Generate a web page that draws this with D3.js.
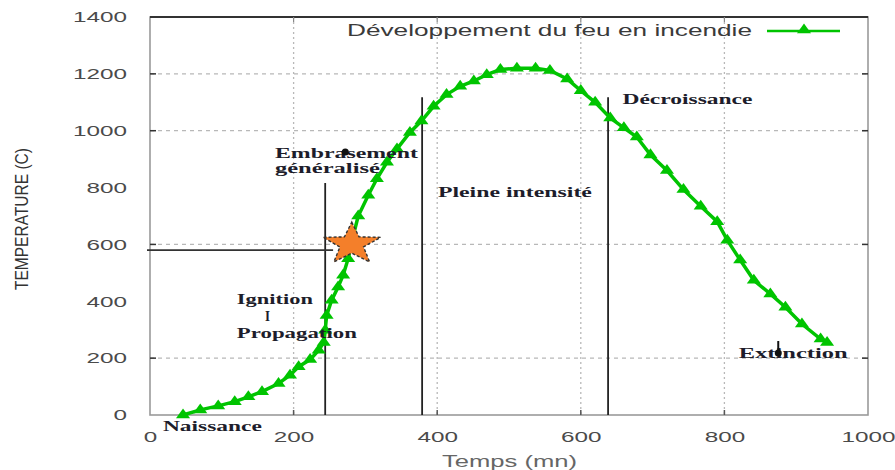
<!DOCTYPE html>
<html>
<head>
<meta charset="utf-8">
<script src="https://cdn.jsdelivr.net/npm/d3@7"></script>
<style>
  body { margin: 0; background: #fff; }
  svg { display: block; }
  .tick text { fill: #4a4a4a; font-family: "Liberation Sans", Arial, sans-serif; font-size: 15px; }
  .note { font-family: "Liberation Serif", "Times New Roman", serif; font-weight: bold; font-size: 15px; fill: #1d1d2b; }
</style>
</head>
<body>
<div id="chart"></div>
<script>
// Curve: time (mn) and temperature (C)
const timeMin = [46, 70, 95, 118, 137, 156, 179, 195, 207, 223, 235, 242, 244, 246, 253, 262, 269, 276,
    282, 290, 304, 316, 330, 344, 362, 378, 395, 413, 432, 451, 469, 488, 511, 537, 557, 581, 600,
    620, 641, 660, 678, 697, 720, 743, 767, 790, 804, 822, 841, 864, 885, 908, 934, 943];
const tempC = [0, 18, 32, 47, 64, 82, 111, 140, 170, 195, 228, 255, 298, 350, 404, 450, 492, 550,
    620, 700, 773, 831, 889, 936, 994, 1034, 1086, 1127, 1156, 1175, 1197, 1215, 1220, 1220, 1212, 1182, 1141,
    1100, 1045, 1010, 978, 915, 860, 793, 734, 680, 615, 545, 474, 426, 379, 320, 267, 255];

const seriesName = 'Développement du feu en incendie';
const xTicks = [0, 200, 400, 600, 800, 1000];
const yTicks = [0, 200, 400, 600, 800, 1000, 1200, 1400];
const gridX = [200, 400, 600, 800];
const gridY = [200, 600, 1000, 1200];

// phase separators: time and top temperature of each vertical line
const phaseTime = [244, 379, 638];
const phaseTop = [816, 1118, 1118];
// flashover point (star) and its reference line
const flashTime = 281, flashTemp = 601;
const flashLineTemp = 580, flashLineEnd = 255;

// annotation texts, anchored in data units (time, temperature)
const noteText = ['Embrasement', 'généralisé', 'Pleine intensité', 'Décroissance', 'Ignition', 'I', 'Propagation', 'Naissance', 'Extinction'];
const noteTime = [174, 174, 401, 658, 121, 160, 121, 18, 820];
const noteTemp = [904, 851, 767, 1094, 390, 331, 271, -56, 200];
const noteLen = [143, 105, 154, 130, 76, 5, 120, 99, 109];
const dotTime = [272, 875];
const dotTemp = [925, 218];

const W = 895, H = 470;
const margin = {top: 17, right: 27, bottom: 55, left: 150};
const width = W - margin.left - margin.right;
const height = H - margin.top - margin.bottom;

const svg = d3.select('#chart').append('svg')
    .attr('width', W)
    .attr('height', H)
    .style('font-family', '"Liberation Sans", Arial, sans-serif');

const g = svg.append('g')
    .attr('transform', `translate(${margin.left}, ${margin.top})`);

const x = d3.scaleLinear().domain([0, 1000]).range([0, width]);
const y = d3.scaleLinear().domain([0, 1400]).range([height, 0]);

// grid
g.selectAll('.gx').data(gridX).enter().append('line')
    .attr('x1', d => x(d)).attr('x2', d => x(d))
    .attr('y1', 0).attr('y2', height)
    .attr('stroke', '#b8b8b8').attr('stroke-width', 1.3).attr('stroke-dasharray', '2,3');
g.selectAll('.gy').data(gridY).enter().append('line')
    .attr('x1', 0).attr('x2', width)
    .attr('y1', d => y(d)).attr('y2', d => y(d))
    .attr('stroke', '#b8b8b8').attr('stroke-width', 1.3).attr('stroke-dasharray', '4,4');

// frame
g.append('rect')
    .attr('width', width).attr('height', height)
    .attr('fill', 'none').attr('stroke', '#9a9a9a').attr('stroke-width', 1.6);
g.append('line')
    .attr('x1', 0).attr('x2', width).attr('y1', 0).attr('y2', 0)
    .attr('stroke', '#333').attr('stroke-width', 1.8);

// axes (labels only, ticks drawn by hand below)
const fmt = d3.format('d');
const xAxis = g.append('g')
    .attr('transform', `translate(0, ${height})`)
    .call(d3.axisBottom(x).tickValues(xTicks).tickFormat(fmt).tickSize(0).tickPadding(16));
const yAxis = g.append('g')
    .call(d3.axisLeft(y).tickValues(yTicks).tickFormat(fmt).tickSize(0).tickPadding(23));
svg.selectAll('.domain').remove();
xAxis.selectAll('text').attr('textLength', d => fmt(d).length * 13.5).attr('lengthAdjust', 'spacingAndGlyphs');
yAxis.selectAll('text').attr('textLength', d => fmt(d).length * 13.5).attr('lengthAdjust', 'spacingAndGlyphs');

// small inward tick marks
g.selectAll('.tl').data(gridY).enter().append('line')
    .attr('x1', 0).attr('x2', 6).attr('y1', d => y(d)).attr('y2', d => y(d))
    .attr('stroke', '#333').attr('stroke-width', 1.5);
g.selectAll('.tr').data(gridY).enter().append('line')
    .attr('x1', width - 6).attr('x2', width).attr('y1', d => y(d)).attr('y2', d => y(d))
    .attr('stroke', '#333').attr('stroke-width', 1.5);
g.selectAll('.tb').data(gridX).enter().append('line')
    .attr('x1', d => x(d)).attr('x2', d => x(d)).attr('y1', height - 5).attr('y2', height)
    .attr('stroke', '#555').attr('stroke-width', 1.5);
g.selectAll('.tt').data(gridX).enter().append('line')
    .attr('x1', d => x(d)).attr('x2', d => x(d)).attr('y1', 0).attr('y2', 5)
    .attr('stroke', '#888').attr('stroke-width', 1.2);

// axis titles
svg.append('text')
    .attr('transform', 'translate(28, 219) rotate(-90)')
    .attr('text-anchor', 'middle')
    .attr('font-size', 18)
    .attr('fill', '#333')
    .attr('textLength', 142).attr('lengthAdjust', 'spacingAndGlyphs')
    .text('TEMPERATURE (C)');
svg.append('text')
    .attr('x', 442).attr('y', 467)
    .attr('font-size', 16)
    .attr('fill', '#666')
    .attr('textLength', 135).attr('lengthAdjust', 'spacingAndGlyphs')
    .text('Temps (mn)');

// phase lines
g.selectAll('.phase').data(phaseTime).enter().append('line')
    .attr('x1', d => x(d)).attr('x2', d => x(d))
    .attr('y1', (d, i) => y(phaseTop[i])).attr('y2', height)
    .attr('stroke', '#222').attr('stroke-width', 1.8);
g.append('line')
    .attr('x1', -3).attr('x2', x(flashLineEnd))
    .attr('y1', y(flashLineTemp)).attr('y2', y(flashLineTemp))
    .attr('stroke', '#333').attr('stroke-width', 1.8);

// curve
const data = timeMin.map((t, i) => ({t: t, v: tempC[i]}));
const green = '#00c400';
const line = d3.line().x(d => x(d.t)).y(d => y(d.v));
g.append('path')
    .datum(data)
    .attr('d', line)
    .attr('fill', 'none')
    .attr('stroke', green)
    .attr('stroke-width', 3.5);
const tri = d3.symbol().type(d3.symbolTriangle).size(55);
g.selectAll('.pt').data(data).enter().append('path')
    .attr('d', tri)
    .attr('transform', d => `translate(${x(d.t)}, ${y(d.v)}) scale(1.25, 1)`)
    .attr('fill', green);

// star (stretched like the rest of the picture)
const R = 22, r = 9;
const starPts = d3.range(10).map(k => {
    const a = -Math.PI / 2 + k * Math.PI / 5;
    const rad = k % 2 ? r : R;
    return [x(flashTime) + Math.cos(a) * rad * 1.38, y(flashTemp) + Math.sin(a) * rad];
});
g.append('path')
    .attr('d', d3.line()(starPts) + 'Z')
    .attr('fill', '#f47f2a')
    .attr('stroke', '#333')
    .attr('stroke-width', 1.4)
    .attr('stroke-dasharray', '3,2');

// notes
g.selectAll('.note').data(noteText).enter().append('text')
    .attr('class', 'note')
    .attr('x', (d, i) => x(noteTime[i]))
    .attr('y', (d, i) => y(noteTemp[i]))
    .attr('textLength', (d, i) => noteLen[i])
    .attr('lengthAdjust', 'spacingAndGlyphs')
    .text(d => d);
g.selectAll('.dot').data(dotTime).enter().append('circle')
    .attr('cx', d => x(d))
    .attr('cy', (d, i) => y(dotTemp[i]))
    .attr('r', 3.5)
    .attr('fill', '#111');
g.append('line')
    .attr('x1', x(dotTime[1])).attr('x2', x(dotTime[1]))
    .attr('y1', y(dotTemp[1]) - 12).attr('y2', y(dotTemp[1]))
    .attr('stroke', '#111').attr('stroke-width', 2);

// legend
const legend = svg.append('g');
legend.append('text')
    .attr('x', 347).attr('y', 36)
    .attr('font-size', 17)
    .attr('fill', '#3a3a3a')
    .attr('textLength', 405).attr('lengthAdjust', 'spacingAndGlyphs')
    .text(seriesName);
legend.append('line')
    .attr('x1', 767).attr('x2', 840).attr('y1', 31).attr('y2', 31)
    .attr('stroke', green).attr('stroke-width', 2.5);
legend.append('path')
    .attr('d', tri)
    .attr('transform', 'translate(804, 30) scale(1.25, 1)')
    .attr('fill', green);
</script>
</body>
</html>
